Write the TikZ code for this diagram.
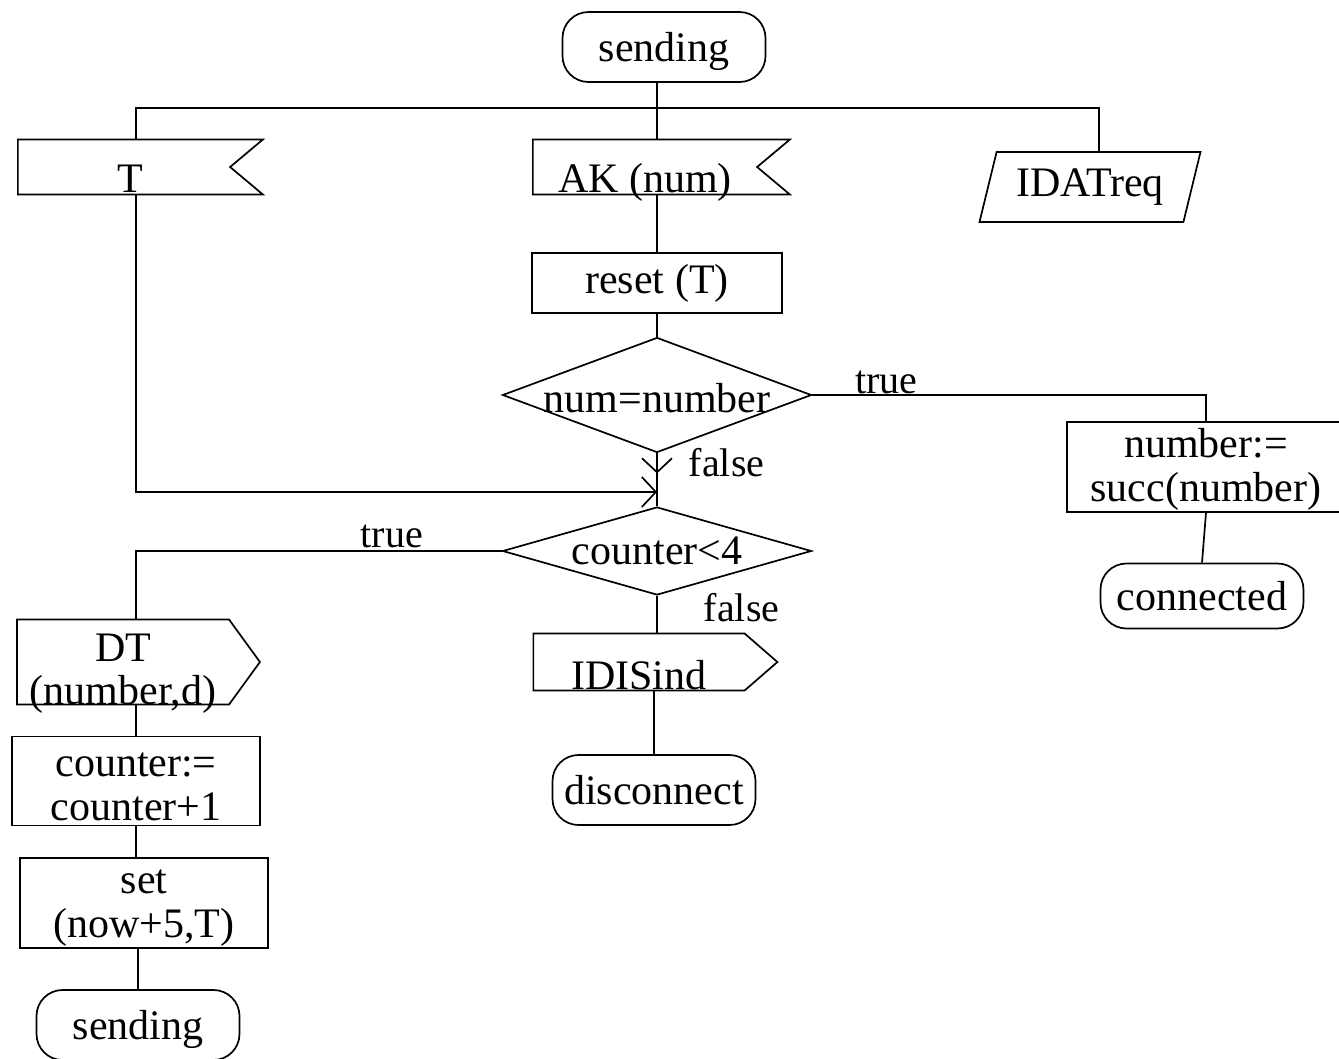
\documentclass[tikz,border=0pt]{standalone}
\usepackage{fontspec}
\setmainfont{Liberation Serif}
\usetikzlibrary{shapes.geometric, shapes.symbols, arrows.meta, decorations.markings}

\begin{document}
\begin{tikzpicture}[x=1pt, y=-1pt,
	every node/.style={font=\fontsize{42}{44}\selectfont, inner sep=0pt},
	line/.style={line width=1.7pt},
	state/.style={draw, line width=1.7pt, rounded corners=26pt, minimum width=203pt, minimum height=70pt, text depth=0pt},
	task/.style={draw, line width=1.7pt, rectangle, align=center},
	decision/.style={draw, line width=1.7pt, diamond, minimum width=309pt},
	input sig/.style={draw, line width=1.7pt, signal, signal to=nowhere, signal from=east, signal pointer angle=80, text height=50pt, text depth=0pt},
	output sig/.style={draw, line width=1.7pt, signal, signal to=east, signal from=nowhere, align=center},
	env/.style={draw, line width=1.7pt, trapezium, trapezium left angle=65, trapezium right angle=115, trapezium stretches body},
	lbl/.style={font=\fontsize{40}{44}\selectfont},
	tip/.style={-{Straight Barb[length=14pt, width=30pt]}},
	mid tip/.style={postaction={decorate}, decoration={markings, mark=at position #1 with {\arrow{Straight Barb[length=14pt, width=30pt]}}}}]
	\useasboundingbox (0,0) rectangle (1339,1058);
	% states and signals
	\node[state] (top) at (664,47) {sending};
	\node[input sig, minimum width=245pt, minimum height=55pt] (tin) at (124,167) {\hspace{12pt}T};
	\node[input sig, minimum width=257pt, minimum height=55pt] (akin) at (645,167) {AK (num)};
	\node[env, minimum width=221pt, minimum height=70pt] (idat) at (1090,187) {IDATreq};
	\node[task, minimum width=250pt, minimum height=60pt] (reset) at (657,283) {reset (T)};
	\node[decision, minimum height=115pt, label={[yshift=-3pt]center:{num=number}}] (numq) at (657,395) {};
	\node[task, minimum width=278pt, minimum height=90pt, label={[align=center, yshift=-2pt]center:{number:=\\succ(number)}}] (numset) at (1206,467) {};
	\node[state, minimum height=65pt] (conn) at (1202,596) {connected};
	\node[decision, minimum height=88pt, label=center:{counter<4}] (cntq) at (657,551) {};
	\node[output sig, signal pointer angle=82, minimum width=244pt, minimum height=57pt, text height=54pt, text depth=0pt] (idis) at (639,662) {IDISind};
	\node[state] (disc) at (654,790) {disconnect};
	\node[output sig, signal pointer angle=108, minimum width=243pt, minimum height=85pt, label={[align=center, yshift=-12pt, font=\fontsize{42}{43}\selectfont]center:{DT\\(number,d)}}] (dt) at (123,662) {};
	\node[task, minimum width=248pt, minimum height=89pt, label={[align=center, yshift=-6pt]center:{counter:=\\counter+1}}] (cntinc) at (136,781) {};
	\node[task, minimum width=248pt, minimum height=90pt, label={[align=center, yshift=-5pt]center:{set\\(now+5,T)}}] (setbox) at (144,903) {};
	\node[state] (bot) at (138,1025) {sending};
	% connectors
	\coordinate (bus) at (657,108);
	\coordinate (merge) at (657,492);
	\draw[line] (top.south -| reset.north) -- (akin.north -| reset.north);
	\draw[line] (tin.north -| cntinc.north) |- (bus) -| (idat.top side);
	\draw[line] (akin.south -| reset.north) -- (reset.north);
	\draw[line] (reset.south) -- (numq.north);
	\draw[line] (numq.east) -| node[lbl, pos=0.094, anchor=base, yshift=2pt] {true} (numset.north);
	\draw[line] (numset.south) -- (conn.north);
	\draw[line, mid tip=0.38] (numq.south) -- node[lbl, pos=0.44, anchor=base west, xshift=31pt] {false} (cntq.north);
	\draw[line, tip] (tin.south -| cntinc.north) |- (merge);
	\draw[line] (cntq.west) -| node[lbl, pos=0.15, anchor=base, yshift=4pt] {true} (dt.north -| cntinc.north);
	\draw[line] (cntq.south) -- node[lbl, pos=0.71, anchor=base west, xshift=46pt] {false} (idis.north -| cntq.south);
	\draw[line] (idis.south -| disc.north) -- (disc.north);
	\draw[line] (dt.south -| cntinc.north) -- (cntinc.north);
	\draw[line] (cntinc.south) -- (cntinc.south |- setbox.north);
	\draw[line] (setbox.south -| bot.north) -- (bot.north);
\end{tikzpicture}
\end{document}
